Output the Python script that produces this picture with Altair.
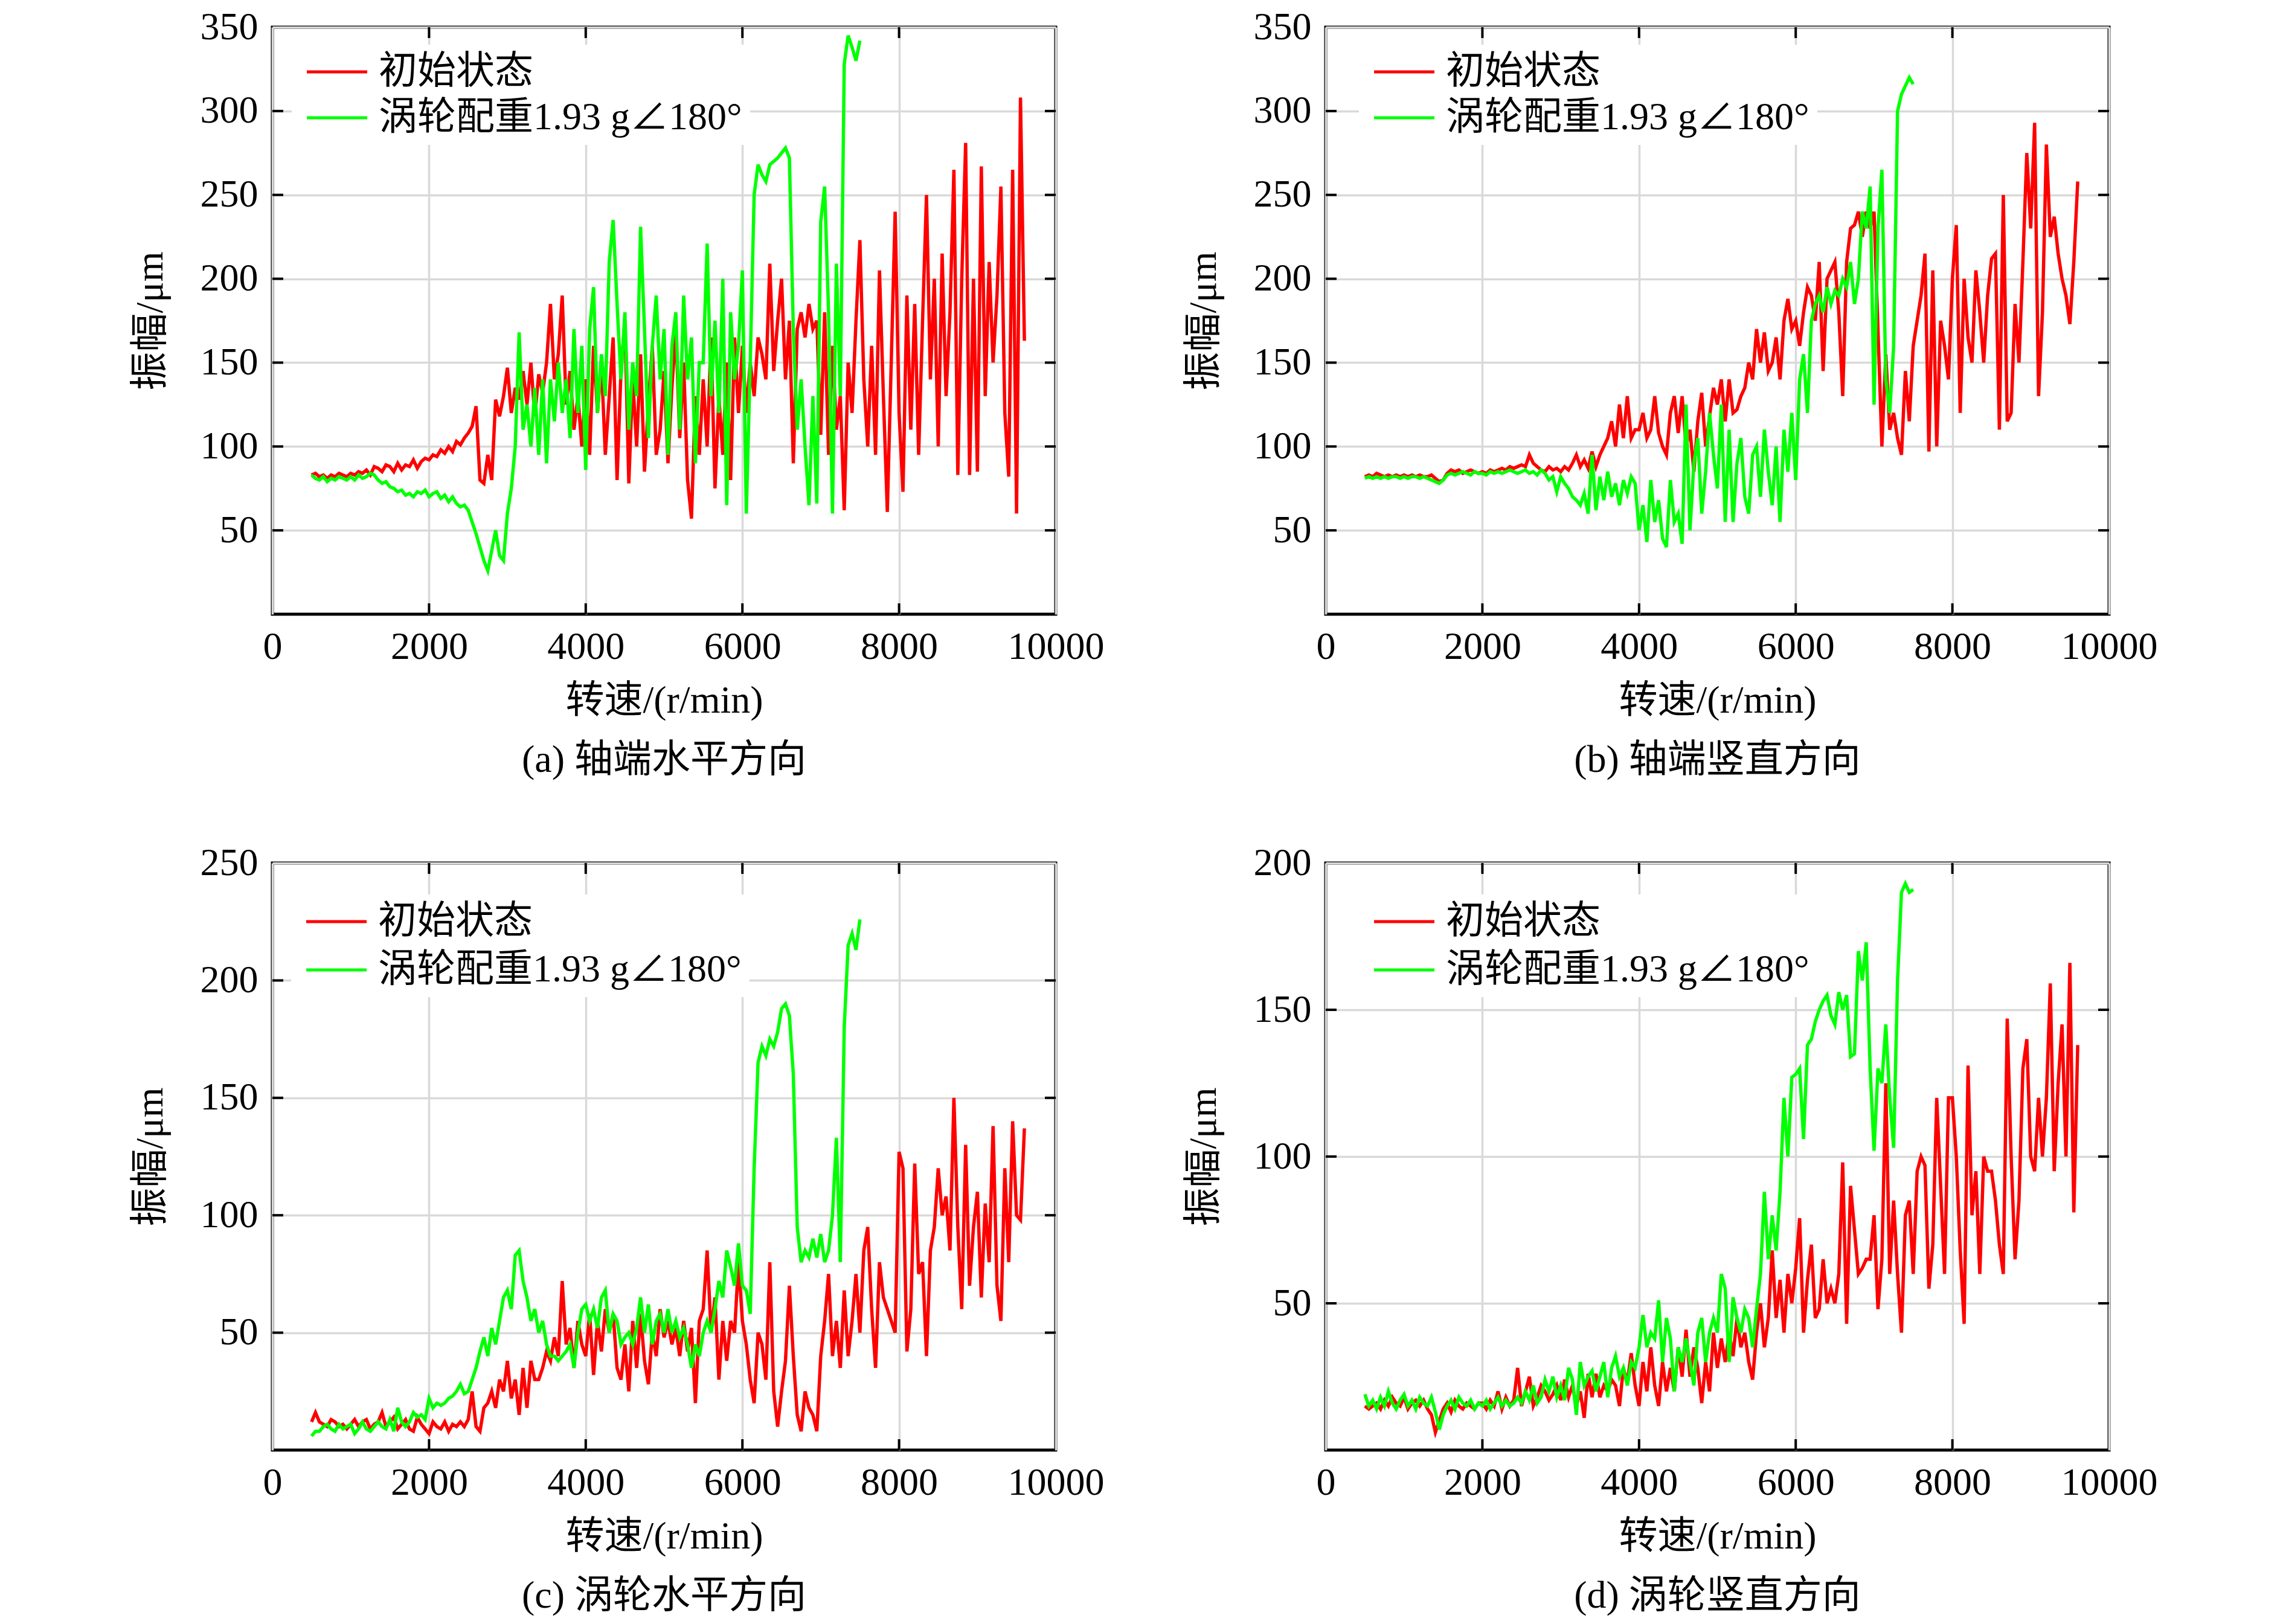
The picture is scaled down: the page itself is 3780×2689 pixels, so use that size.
import altair as alt
import pandas as pd

RED_NAME = "初始状态"
GREEN_NAME = "涡轮配重1.93 g∠180°"
FONT = "'Liberation Serif', 'Noto Sans CJK SC', serif"

# speeds are sampled every 50 r/min starting at 500 r/min
SPEED_START = 500
SPEED_STEP = 50

# (a) 轴端水平方向
red_a = [83, 84, 82, 83, 81, 83, 82, 84, 83, 82,
         84, 83, 85, 84, 86, 83, 88, 87, 85, 89,
         88, 85, 90, 86, 89, 88, 92, 87, 91, 93,
         92, 95, 94, 98, 96, 100, 97, 103, 101, 105,
         108, 112, 124, 80, 78, 95, 80, 128, 118, 130,
         147, 120, 135, 128, 145, 125, 150, 118, 143, 132,
         150, 185, 140, 155, 190, 125, 145, 110, 130, 100,
         140, 95, 160, 120, 150, 95, 130, 165, 80, 145,
         175, 78, 140, 100, 155, 85, 125, 160, 95, 110,
         145, 90, 135, 170, 105, 150, 80, 57, 130, 95,
         140, 100, 165, 75, 130, 95, 150, 80, 165, 120,
         160, 120, 150, 130, 165, 155, 140, 209, 145, 175,
         200, 140, 175, 90, 170, 180, 165, 185, 170, 175,
         107, 180, 95, 160, 110, 130, 62, 150, 120, 175,
         223, 140, 100, 160, 95, 205, 130, 61, 150, 240,
         120, 73, 190, 110, 185, 95, 175, 250, 140, 200,
         100, 215, 130, 180, 265, 83, 200, 281, 83, 200,
         85, 267, 130, 210, 150, 190, 255, 120, 82, 265,
         60, 308, 163]
green_a = [83, 81, 80, 82, 79, 81, 80, 82, 81, 80,
           82, 80, 83, 81, 82, 84, 83, 80, 78, 79,
           76, 75, 73, 74, 71, 72, 70, 73, 72, 74,
           70, 72, 73, 69, 71, 67, 70, 66, 64, 65,
           62, 55, 48, 40, 32, 26, 38, 50, 35, 32,
           60, 75, 100, 168, 110, 125, 100, 135, 95, 140,
           90, 140, 115, 150, 120, 140, 105, 170, 120, 160,
           86, 170, 195, 120, 155, 130, 210, 235, 185, 140,
           180, 110, 150, 130, 231, 170, 105, 160, 190, 140,
           170, 95, 160, 180, 110, 190, 140, 165, 90, 150,
           150, 221, 130, 175, 120, 200, 65, 180, 140, 160,
           205, 60, 150, 250, 268, 262, 258, 268, 270, 272,
           275, 278, 272, 170, 110, 140, 100, 65, 130, 66,
           234, 255, 180, 60, 209, 130, 328, 345, 338, 330,
           342]

# (b) 轴端竖直方向
red_b = [82, 83, 82, 84, 83, 82, 83, 82, 83, 82,
         83, 82, 83, 82, 83, 82, 82, 83, 81, 79,
         80, 84, 86, 85, 86, 84, 85, 86, 85, 84,
         85, 84, 86, 85, 86, 87, 86, 88, 87, 88,
         89, 88, 95, 90, 88, 86, 85, 88, 86, 87,
         85, 88, 86, 90, 95, 88, 92, 87, 97, 88,
         95, 100, 105, 115, 100, 125, 105, 130, 105, 110,
         110, 120, 105, 110, 130, 108, 100, 95, 120, 130,
         108, 130, 100, 110, 85, 115, 132, 100, 118, 135,
         125, 140, 115, 140, 120, 122, 130, 135, 150, 140,
         170, 150, 168, 145, 150, 165, 140, 175, 188, 170,
         175, 160, 180, 195, 190, 175, 210, 145, 200, 205,
         210, 180, 130, 210, 230, 232, 240, 225, 240, 230,
         240, 170, 100, 155, 110, 120, 105, 95, 145, 115,
         160, 175, 190, 215, 97, 205, 100, 175, 160, 140,
         200, 232, 120, 200, 165, 150, 205, 180, 150, 190,
         212, 215, 110, 250, 115, 120, 185, 150, 210, 275,
         230, 293, 130, 180, 280, 225, 237, 215, 200, 190,
         173, 210, 258]
green_b = [81, 82, 81, 82, 81, 82, 81, 82, 82, 81,
           82, 81, 82, 82, 81, 82, 81, 80, 79, 78,
           80, 83, 84, 83, 84, 85, 84, 83, 85, 84,
           84, 83, 85, 84, 85, 84, 85, 86, 85, 84,
           85, 86, 84, 85, 83, 86, 84, 80, 82, 73,
           82, 78, 75, 70, 68, 65, 72, 60, 95, 62,
           82, 68, 85, 70, 78, 65, 80, 72, 82, 78,
           50, 65, 43, 80, 55, 68, 45, 40, 80, 55,
           60, 42, 125, 50, 90, 105, 60, 85, 120, 95,
           75, 125, 55, 110, 55, 90, 105, 70, 60, 95,
           100, 70, 110, 85, 65, 100, 55, 110, 85, 120,
           80, 140, 155, 120, 175, 185, 190, 180, 195, 185,
           193, 190, 200, 195, 210, 185, 200, 240, 230, 255,
           125, 230, 265, 140, 120, 160, 300, 310, 315, 320,
           316]

# (c) 涡轮水平方向
red_c = [12, 16, 12, 11, 10, 13, 12, 10, 11, 9,
         11, 13, 10, 12, 13, 9, 11, 12, 16, 10,
         12, 14, 9, 11, 13, 9, 8, 14, 11, 9,
         7, 12, 10, 9, 12, 8, 11, 10, 12, 10,
         13, 25, 10, 8, 18, 20, 25, 18, 30, 25,
         38, 22, 30, 15, 35, 18, 38, 30, 30, 35,
         42, 38, 48, 40, 72, 45, 52, 35, 55, 45,
         40, 58, 32, 55, 42, 60, 50, 58, 35, 30,
         45, 25, 55, 35, 58, 38, 28, 50, 40, 60,
         48, 55, 45, 52, 40, 55, 42, 52, 20, 55,
         60, 85, 50, 65, 30, 55, 38, 55, 50, 80,
         55, 45, 30, 20, 50, 45, 30, 80, 25, 10,
         25, 38, 70, 40, 15, 8, 25, 18, 15, 8,
         40, 55, 75, 40, 55, 35, 68, 40, 55, 75,
         50, 85, 95, 60, 35, 80, 65, 60, 55, 50,
         127, 120, 42, 60, 122, 75, 80, 40, 85, 95,
         120, 100, 108, 85, 150, 95, 60, 130, 70, 95,
         110, 65, 105, 80, 138, 70, 55, 120, 80, 140,
         100, 98, 137]
green_c = [6, 8, 8, 10, 11, 9, 8, 11, 9, 10,
           11, 7, 9, 12, 9, 8, 10, 12, 10, 9,
           13, 8, 18, 12, 10, 12, 16, 14, 15, 13,
           22, 18, 20, 19, 20, 22, 23, 25, 28, 24,
           25, 30, 35, 42, 48, 40, 52, 45, 55, 65,
           68, 60, 83, 85, 72, 65, 55, 60, 50, 55,
           45, 40, 40, 38, 40, 42, 45, 35, 50, 60,
           62, 55, 60, 52, 65, 68, 50, 58, 55, 45,
           48, 50, 45, 52, 65, 50, 62, 45, 55, 58,
           50, 60, 50, 55, 48, 52, 45, 35, 45, 40,
           50, 55, 50, 60, 72, 65, 85, 78, 70, 88,
           70, 68, 58, 120, 165, 172, 168, 175, 172, 178,
           188, 190, 185, 160, 95, 80, 85, 82, 90, 82,
           92, 80, 85, 100, 133, 80, 180, 215, 220, 213,
           226]

# (d) 涡轮竖直方向
red_d = [15, 14, 15, 16, 14, 17, 15, 18, 16, 15,
         18, 14, 16, 17, 15, 17, 14, 12, 6, 10,
         14, 16, 13, 17, 15, 14, 16, 15, 14, 16,
         16, 14, 17, 15, 20, 14, 18, 15, 17, 28,
         15, 20, 25, 15, 18, 22, 20, 17, 19, 22,
         17, 24, 18, 22, 15, 20, 11, 26, 18, 26,
         18, 22, 20, 24, 22, 15, 28, 23, 33, 22,
         15, 30, 20, 35, 22, 15, 30, 20, 28, 20,
         35, 25, 41, 25, 35, 28, 16, 30, 20, 40,
         28, 38, 30, 40, 32, 45, 35, 40, 30, 24,
         40, 50, 35, 45, 68, 45, 58, 40, 60, 50,
         62, 79, 40, 58, 70, 45, 48, 65, 50, 55,
         50, 60, 98, 43, 90, 75, 60, 62, 65, 65,
         80, 48, 65, 125, 60, 85, 60, 40, 80, 85,
         60, 95, 100, 97, 55, 70, 120, 90, 60, 120,
         120, 100, 68, 43, 131, 80, 95, 60, 100, 95,
         95, 85, 70, 60, 147, 100, 65, 85, 130, 140,
         100, 95, 120, 100, 120, 159, 95, 125, 145, 100,
         166, 81, 138]
green_d = [19, 15, 17, 14, 18, 15, 20, 16, 14, 17,
           19, 15, 17, 14, 18, 16, 15, 18, 13, 7,
           12, 15, 17, 14, 18, 16, 15, 17, 14, 16,
           15, 17, 14, 16, 18, 15, 17, 15, 16, 18,
           16, 20, 17, 22, 16, 18, 24, 20, 25, 18,
           22, 17, 28, 24, 12, 30, 22, 25, 27, 20,
           25, 30, 18, 28, 32, 25, 28, 22, 30, 28,
           35, 46, 35, 40, 38, 51, 30, 45, 38, 20,
           35, 30, 38, 30, 22, 40, 45, 30, 40, 45,
           40, 60, 55, 30, 52, 45, 40, 48, 45, 35,
           48, 60, 88, 65, 80, 68, 88, 120, 100, 127,
           128, 130, 106, 138, 140, 146, 150, 153, 155, 148,
           145, 156, 150, 155, 134, 135, 170, 160, 173, 130,
           102, 130, 125, 145, 120, 103, 160, 190, 193, 190,
           191]

x_labels = [0, 2000, 4000, 6000, 8000, 10000]
x_inner_ticks = [2000, 4000, 6000, 8000]

W, H = 1297, 972
TICK = 18
# legend line: a path that starts at the left of the symbol box and is 100px long
LEGEND_LINE = "M-1,0H4"


def to_rows(values, name):
    return [{"speed": SPEED_START + SPEED_STEP * i, "amp": v, "state": name}
            for i, v in enumerate(values)]


def make_panel(red, green, ymax, caption, legend_x, legend_y, row_pad):
    df = pd.DataFrame(to_rows(red, RED_NAME) + to_rows(green, GREEN_NAME))
    y_labels = list(range(50, ymax + 1, 50))

    x = alt.X("speed:Q", scale=alt.Scale(domain=[0, 10000], nice=False),
              axis=alt.Axis(values=x_labels, title="转速/(r/min)", labelFlush=False, format="d"))
    y = alt.Y("amp:Q", scale=alt.Scale(domain=[0, ymax], nice=False),
              axis=alt.Axis(values=y_labels, title="振幅/μm"))
    color = alt.Color("state:N",
                      scale=alt.Scale(domain=[RED_NAME, GREEN_NAME], range=["#ff0000", "#00ff00"]),
                      legend=alt.Legend(title=None, orient="none",
                                        legendX=legend_x, legendY=legend_y, rowPadding=row_pad))

    base = alt.Chart(df).encode(x=x, y=y, color=color)
    red_line = base.transform_filter(alt.datum.state == RED_NAME).mark_line(strokeWidth=5.5)
    green_line = base.transform_filter(alt.datum.state == GREEN_NAME).mark_line(strokeWidth=5.5)

    # inward tick marks on all four sides
    xt = alt.Chart(pd.DataFrame({"speed": x_inner_ticks})).mark_rule(color="black", strokeWidth=4)
    yt = alt.Chart(pd.DataFrame({"amp": y_labels[:-1]})).mark_rule(color="black", strokeWidth=4)
    top = xt.encode(x=x, y=alt.value(0), y2=alt.value(TICK))
    bottom = xt.encode(x=x, y=alt.value(H - TICK), y2=alt.value(H))
    left = yt.encode(y=y, x=alt.value(0), x2=alt.value(TICK))
    right = yt.encode(y=y, x=alt.value(W - TICK), x2=alt.value(W))

    return alt.layer(red_line, green_line, top, bottom, left, right).properties(
        width=W, height=H,
        title=alt.TitleParams(caption, orient="bottom", frame="group", anchor="middle",
                              offset=35, font=FONT, fontSize=64, fontWeight="normal",
                              color="black"),
    )


pa = make_panel(red_a, green_a, 350, "(a) 轴端水平方向", 32, 29, 12)
pb = make_panel(red_b, green_b, 350, "(b) 轴端竖直方向", 55, 29, 12)
pc = make_panel(red_c, green_c, 250, "(c) 涡轮水平方向", 31, 52, 16)
pd_ = make_panel(red_d, green_d, 200, "(d) 涡轮竖直方向", 55, 52, 16)

chart = alt.concat(pa, pb, pc, pd_, columns=2, spacing={"row": 100, "column": 127}).resolve_scale(
    color="independent"
).resolve_legend(
    color="independent"
).properties(
    padding={"left": 206, "top": 2, "right": 5, "bottom": 5},
    background="white",
).configure_view(
    stroke="black", strokeWidth=5
).configure_axis(
    labelFont=FONT, labelFontSize=64, labelColor="black",
    titleFont=FONT, titleFontSize=64, titleFontWeight="normal", titleColor="black",
    gridColor="#d9d9d9", gridWidth=3.5, domain=False, ticks=False,
).configure_axisX(
    labelPadding=22, titlePadding=25
).configure_axisY(
    labelPadding=24, titlePadding=50
).configure_legend(
    labelFont=FONT, labelFontSize=64, labelColor="black", labelOffset=67, labelLimit=0,
    symbolType=LEGEND_LINE, symbolSize=1600, symbolStrokeWidth=5,
    fillColor="white", padding=13,
)

chart.save("out.html", embed_options={"renderer": "svg", "actions": False})
